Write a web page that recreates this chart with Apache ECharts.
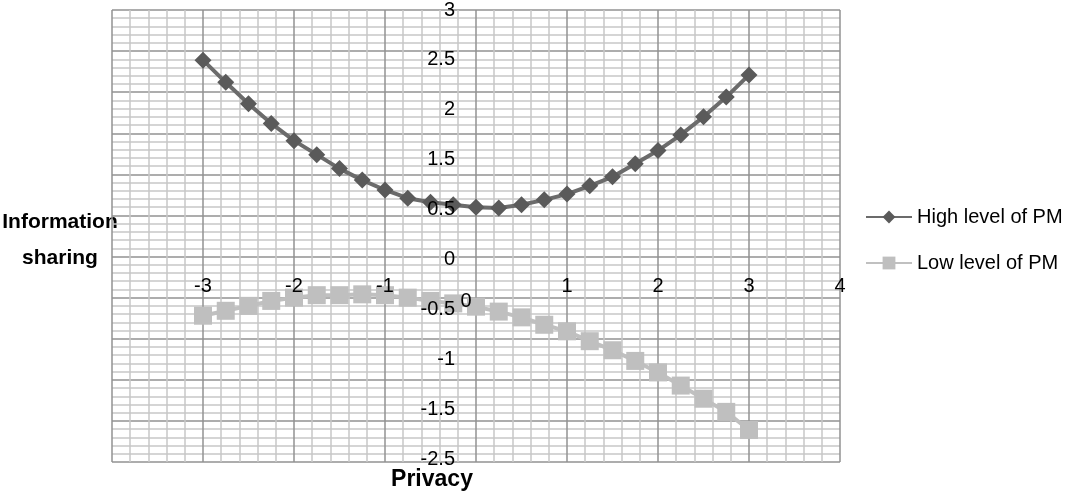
<!DOCTYPE html>
<html>
<head>
<meta charset="utf-8">
<title>Information sharing vs Privacy</title>
<script src="https://cdn.jsdelivr.net/npm/echarts@6/dist/echarts.min.js"></script>
<style>
  html, body { margin: 0; padding: 0; background: #fff; }
  #chart { width: 1084px; height: 495px; }
</style>
</head>
<body>
<div id="chart"></div>
<script>
// privacy values (x)
const privacy = [-3, -2.75, -2.5, -2.25, -2, -1.75, -1.5, -1.25, -1, -0.75, -0.5, -0.25,
  0, 0.25, 0.5, 0.75, 1, 1.25, 1.5, 1.75, 2, 2.25, 2.5, 2.75, 3]
// information sharing, high level of PM
const highPM = [2.39, 2.12, 1.86, 1.62, 1.41, 1.24, 1.07, 0.93, 0.81, 0.71, 0.66, 0.63,
  0.6, 0.59, 0.63, 0.69, 0.76, 0.86, 0.97, 1.13, 1.29, 1.48, 1.7, 1.94, 2.21]
// information sharing, low level of PM
const lowPM = [-0.72, -0.66, -0.6, -0.54, -0.5, -0.47, -0.47, -0.46, -0.47, -0.5, -0.54, -0.57,
  -0.61, -0.67, -0.74, -0.83, -0.91, -1.03, -1.14, -1.27, -1.41, -1.57, -1.73, -1.89, -2.11]
// y tick labels as printed in the figure (1 and -2 are missing there)
const yTickLabels = ['-2.5', '-1.5', '-1', '-0.5', '0', '0.5', '1.5', '2', '2.5', '3']

const font = 'Liberation Sans, Arial, sans-serif'
const chart = echarts.init(document.getElementById('chart'))

// the figure prints its tick labels along the zero lines, so the labels
// live on extra axes in grids whose edges sit on x = 0 and y = 0
const option = {
  animation: false,
  textStyle: { fontFamily: font },
  grid: [
    { left: 112, top: 10, width: 728, height: 452, outerBoundsMode: 'none' },
    { left: 112, top: 10, width: 728, height: 246, outerBoundsMode: 'none' },
    { left: 477, top: 10, width: 363, height: 449, outerBoundsMode: 'none' }
  ],
  legend: {
    orient: 'vertical',
    left: 860,
    top: 202,
    itemWidth: 46,
    itemHeight: 16,
    itemGap: 26,
    textStyle: { fontSize: 20, color: '#000', fontFamily: font },
    data: ['High level of PM', 'Low level of PM']
  },
  xAxis: [
    {
      gridIndex: 0,
      type: 'value',
      min: -4,
      max: 4,
      interval: 1,
      axisLine: { show: false },
      axisTick: { show: false },
      axisLabel: { show: false },
      splitLine: { lineStyle: { color: '#929292', width: 1.5 } },
      minorTick: { show: false, splitNumber: 5 },
      minorSplitLine: { show: true, lineStyle: { color: '#c8c8c8', width: 1.5 } }
    },
    {
      gridIndex: 1,
      type: 'value',
      z: 5,
      min: -4,
      max: 4,
      interval: 1,
      axisLine: { show: false },
      axisTick: { show: false },
      splitLine: { show: false },
      axisLabel: {
        fontSize: 20,
        color: '#000',
        margin: 20,
        formatter: v => (v === -4 ? '' : v === 0 ? '{zero|0}' : String(v)),
        rich: { zero: { fontSize: 20, color: '#000', padding: [15, 20, 0, 0] } }
      }
    },
    { gridIndex: 2, type: 'value', min: 0, max: 1, show: false }
  ],
  yAxis: [
    {
      gridIndex: 0,
      type: 'value',
      min: -2.5,
      max: 3,
      interval: 0.5,
      axisLine: { show: false },
      axisTick: { show: false },
      axisLabel: { show: false },
      splitLine: { lineStyle: { color: '#929292', width: 1.5 } },
      minorTick: { show: false, splitNumber: 5 },
      minorSplitLine: { show: true, lineStyle: { color: '#c8c8c8', width: 1.5 } }
    },
    { gridIndex: 1, type: 'value', min: 0, max: 1, show: false },
    {
      gridIndex: 2,
      type: 'value',
      z: 5,
      min: 0,
      max: yTickLabels.length - 1,
      interval: 1,
      position: 'left',
      axisLine: { show: false },
      axisTick: { show: false },
      splitLine: { show: false },
      axisLabel: {
        fontSize: 20,
        color: '#000',
        margin: 22,
        formatter: v => yTickLabels[v]
      }
    }
  ],
  graphic: [
    {
      type: 'text',
      x: 60,
      y: 204,
      style: {
        text: 'Information\nsharing',
        fontSize: 21,
        fontWeight: 'bold',
        fontFamily: font,
        fill: '#000',
        align: 'center',
        lineHeight: 36
      }
    },
    {
      type: 'text',
      x: 432,
      y: 468,
      style: {
        text: 'Privacy',
        fontSize: 23,
        fontWeight: 'bold',
        fontFamily: font,
        fill: '#000',
        align: 'center'
      }
    }
  ],
  series: [
    {
      name: 'High level of PM',
      type: 'line',
      xAxisIndex: 0,
      yAxisIndex: 0,
      data: privacy.map((x, i) => [x, highPM[i]]),
      symbol: 'diamond',
      symbolSize: 17,
      lineStyle: { color: '#6b6b6b', width: 4 },
      itemStyle: { color: '#5a5a5a' }
    },
    {
      name: 'Low level of PM',
      type: 'line',
      xAxisIndex: 0,
      yAxisIndex: 0,
      data: privacy.map((x, i) => [x, lowPM[i]]),
      symbol: 'rect',
      symbolSize: 18,
      lineStyle: { color: '#c0c0c0', width: 4 },
      itemStyle: { color: '#bfbfbf' }
    }
  ]
}

chart.setOption(option)
</script>
</body>
</html>
